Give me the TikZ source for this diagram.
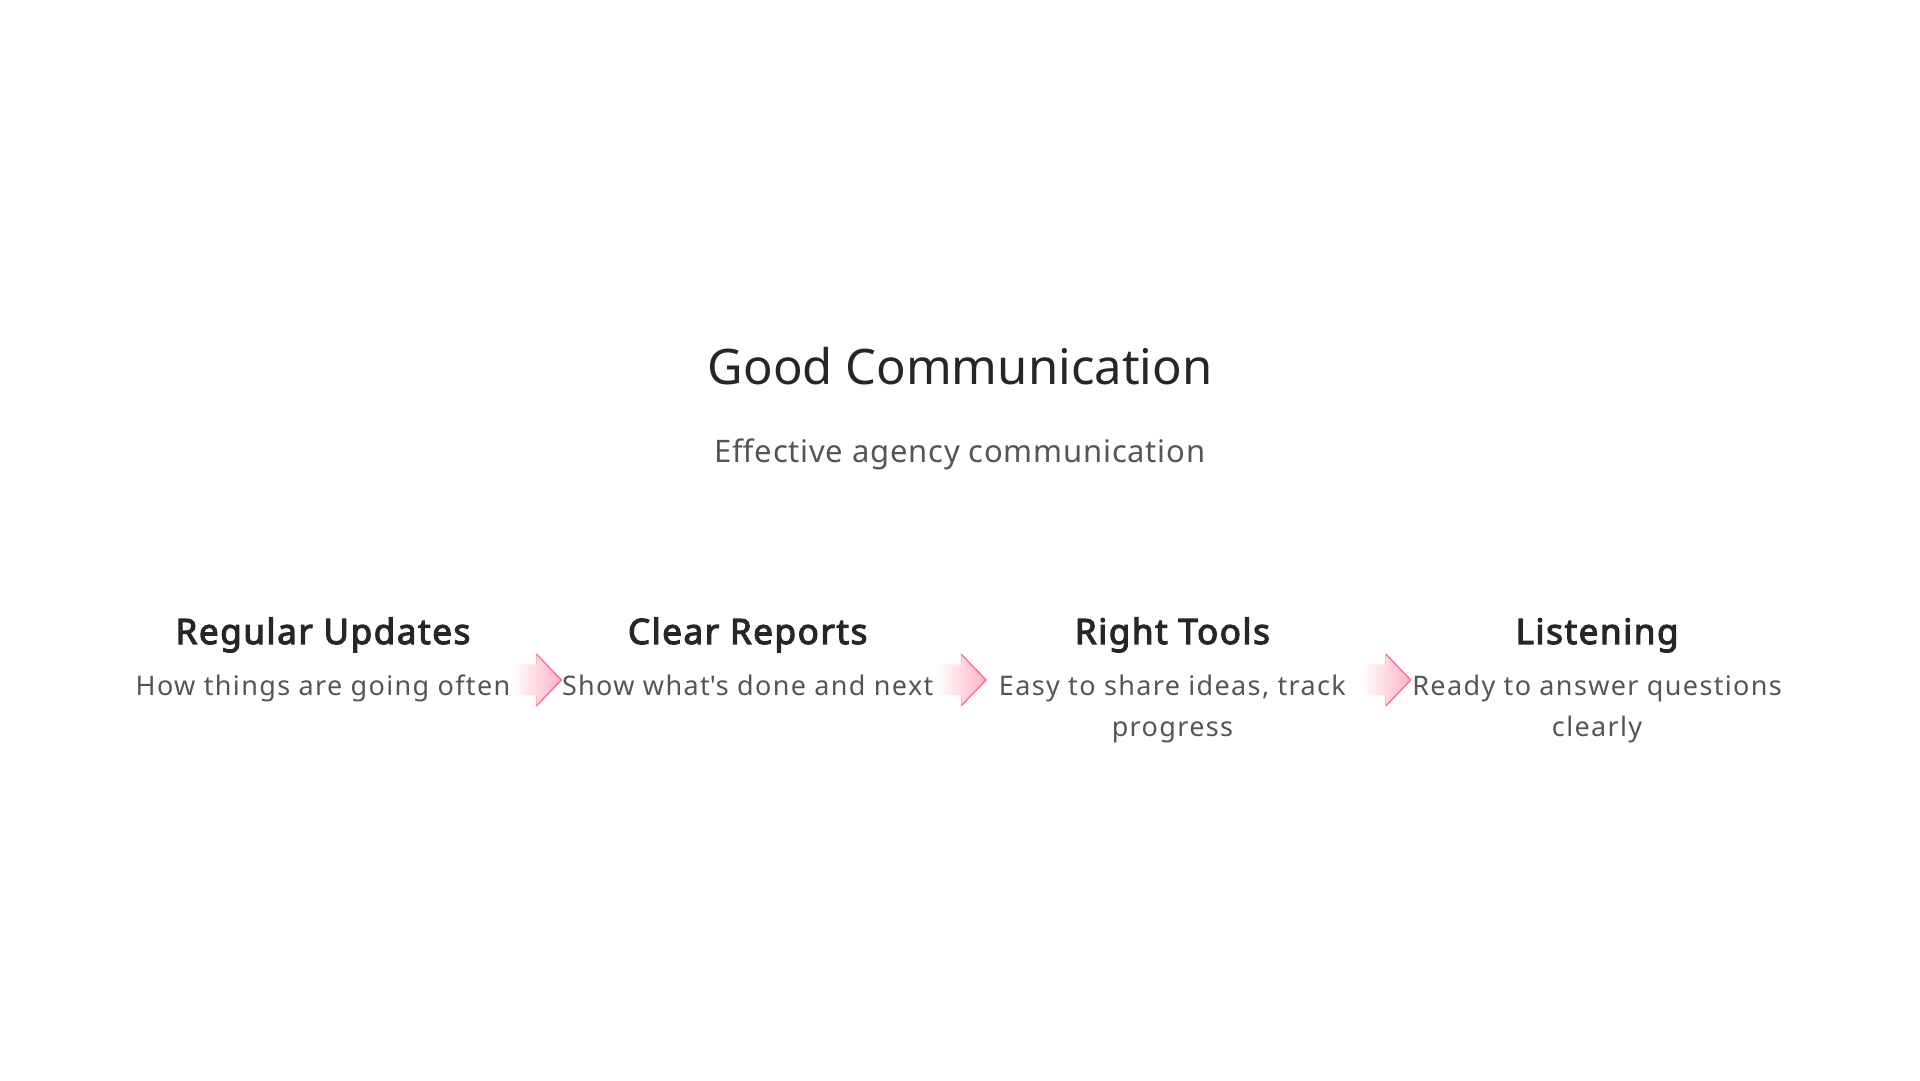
\documentclass[tikz,border=0pt]{standalone}
\usepackage{fontspec}
\setmainfont{Noto Sans}
\newfontfamily\subfont[LetterSpace=2.5]{Noto Sans}
\newfontfamily\descfont[LetterSpace=5]{Noto Sans}
\newfontfamily\headfont[FakeBold=3.2, LetterSpace=4.5]{Noto Sans}
\usetikzlibrary{positioning,calc}

\definecolor{titlegray}{HTML}{262626}
\definecolor{textgray}{HTML}{555555}
\definecolor{arrowfill}{HTML}{FFB3C5}
\definecolor{arrowline}{HTML}{FF6A8E}
\definecolor{arrowback}{HTML}{FFB3C3}

\tikzset{
  titletext/.style={inner sep=0pt, anchor=base, text=titlegray, font=\fontsize{49pt}{58pt}\selectfont},
  subtext/.style={inner sep=0pt, anchor=base, text=textgray, font=\subfont\fontsize{31pt}{38pt}\selectfont},
  headtext/.style={inner sep=0pt, text height=27pt, text depth=8pt, text=titlegray, font=\headfont\fontsize{35pt}{42pt}\selectfont},
  desctext/.style={inner sep=0pt, anchor=north, align=center, text=textgray, font=\descfont\fontsize{27pt}{41pt}\selectfont},
  flowarrow/.pic={
    \shade[left color=white, right color=arrowfill] (-24pt,15.5pt) -- (1pt,15.5pt) -- (1pt,26pt) -- (26pt,0pt) -- (1pt,-26pt) -- (1pt,-15.5pt) -- (-24pt,-15.5pt) -- cycle;
    \draw[arrowback, line width=1pt] (1pt,15.5pt) -- (1pt,26pt) (1pt,-15.5pt) -- (1pt,-26pt);
    \draw[arrowline, line width=1.3pt, line join=miter] (1pt,26pt) -- (26pt,0pt) -- (1pt,-26pt);
  }
}

\begin{document}
\begin{tikzpicture}
      \useasboundingbox (0,0) rectangle (1920pt,1080pt);
      \node[titletext] (title) at (960pt,695pt) {Good Communication};
      \node[subtext] (sub) at (960pt,617pt) {Effective agency communication};
      \node[headtext] (h1) at (323pt,445.5pt) {Regular Updates};
      \node[headtext, right of=h1, node distance=424.7pt] (h2) {Clear Reports};
      \node[headtext, right of=h2, node distance=424.7pt] (h3) {Right Tools};
      \node[headtext, right of=h3, node distance=424.7pt] (h4) {Listening};
      % arrows between the steps
      \pic at ($(h1.center)!0.5!(h2.center) + (0,-45.5pt)$) {flowarrow};
      \pic at ($(h2.center)!0.5!(h3.center) + (0,-45.5pt)$) {flowarrow};
      \pic at ($(h3.center)!0.5!(h4.center) + (0,-45.5pt)$) {flowarrow};
      \node[desctext, below of=h1, node distance=40pt, anchor=north] (d1) {How things are going often};
      \node[desctext, below of=h2, node distance=40pt, anchor=north] (d2) {Show what\textquotesingle s done and next};
      \node[desctext, below of=h3, node distance=40pt, anchor=north] (d3) {Easy to share ideas, track\\progress};
      \node[desctext, below of=h4, node distance=40pt, anchor=north] (d4) {Ready to answer questions\\clearly};
    \end{tikzpicture}
\end{document}
